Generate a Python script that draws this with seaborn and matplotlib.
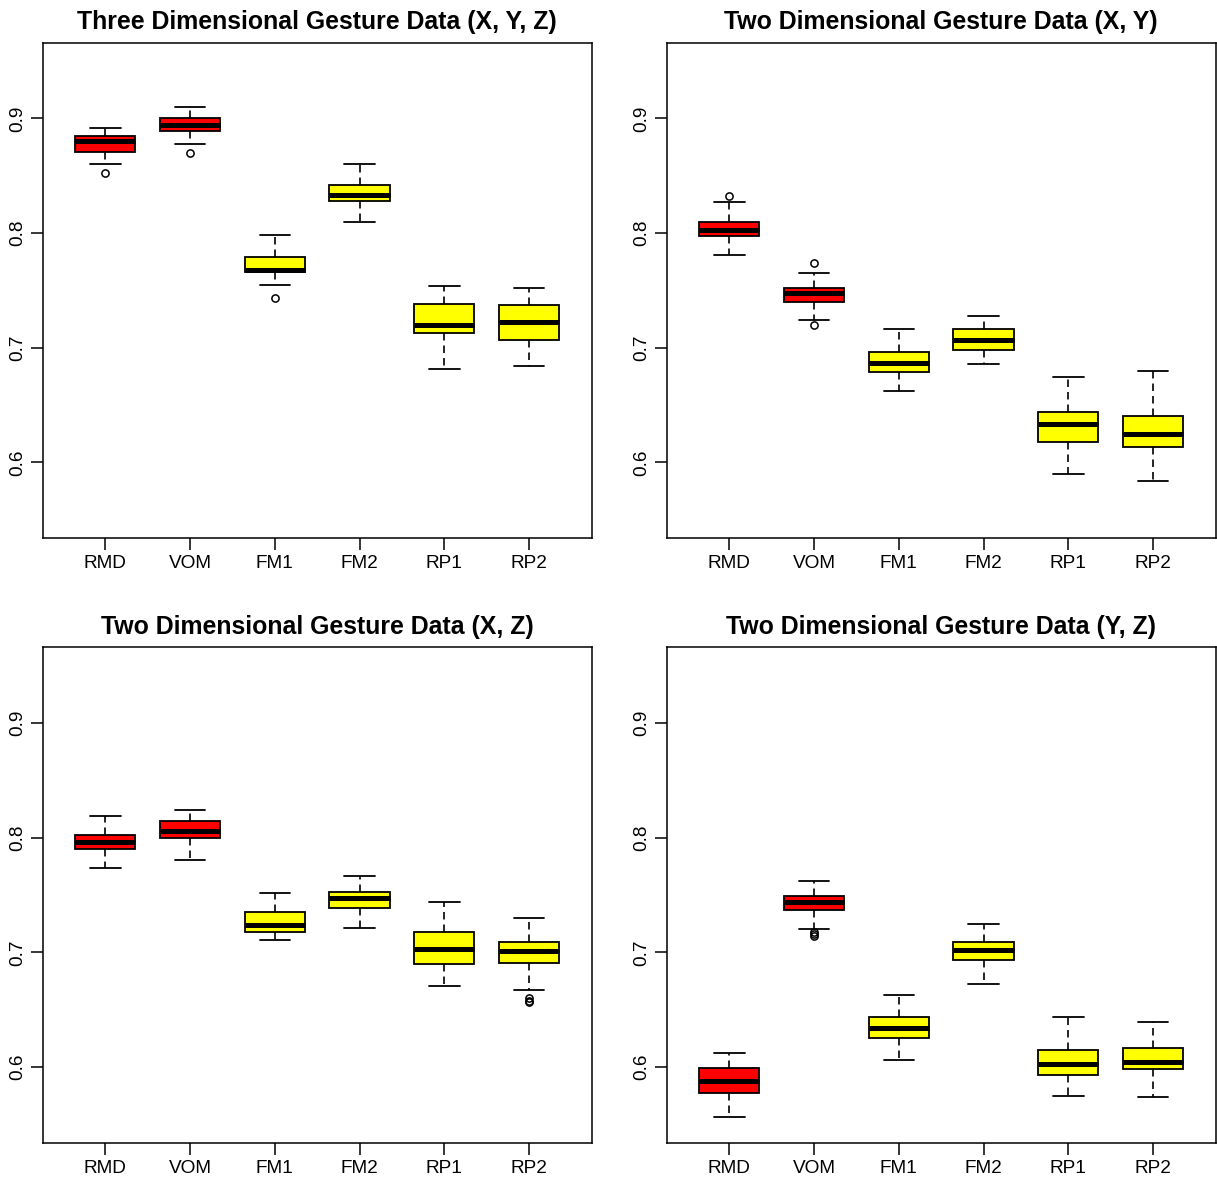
import matplotlib
matplotlib.use("Agg")
import matplotlib.pyplot as plt
import seaborn as sns

sns.set_style("white")
plt.rcParams['font.family'] = ['Liberation Sans', 'DejaVu Sans']
plt.rcParams['text.color'] = 'black'
plt.rcParams['axes.labelcolor'] = 'black'
plt.rcParams['xtick.color'] = 'black'
plt.rcParams['ytick.color'] = 'black'
plt.rcParams['axes.edgecolor'] = 'black'

categories = ["RMD", "VOM", "FM1", "FM2", "RP1", "RP2"]
box_colors = ["#FF0000", "#FF0000", "#FFFF00", "#FFFF00", "#FFFF00", "#FFFF00"]

titles = [
    "Three Dimensional Gesture Data (X, Y, Z)",
    "Two Dimensional Gesture Data (X, Y)",
    "Two Dimensional Gesture Data (X, Z)",
    "Two Dimensional Gesture Data (Y, Z)",
]

# Panel 1: (X, Y, Z)
xyz_lo = [0.860, 0.878, 0.755, 0.810, 0.681, 0.684]
xyz_q1 = [0.871, 0.889, 0.766, 0.828, 0.713, 0.707]
xyz_med = [0.880, 0.894, 0.768, 0.833, 0.720, 0.722]
xyz_q3 = [0.885, 0.900, 0.779, 0.842, 0.738, 0.737]
xyz_hi = [0.892, 0.910, 0.798, 0.860, 0.754, 0.752]
xyz_out = [[0.852], [0.870], [0.743], [], [], []]

# Panel 2: (X, Y)
xy_lo = [0.781, 0.724, 0.662, 0.686, 0.590, 0.584]
xy_q1 = [0.797, 0.740, 0.679, 0.698, 0.618, 0.613]
xy_med = [0.803, 0.748, 0.687, 0.707, 0.633, 0.625]
xy_q3 = [0.810, 0.752, 0.696, 0.716, 0.644, 0.640]
xy_hi = [0.827, 0.765, 0.716, 0.728, 0.674, 0.680]
xy_out = [[0.832], [0.774, 0.7195], [], [], [], []]

# Panel 3: (X, Z)
xz_lo = [0.774, 0.781, 0.711, 0.721, 0.671, 0.667]
xz_q1 = [0.790, 0.800, 0.718, 0.739, 0.690, 0.691]
xz_med = [0.796, 0.806, 0.724, 0.747, 0.703, 0.701]
xz_q3 = [0.802, 0.815, 0.735, 0.753, 0.718, 0.709]
xz_hi = [0.819, 0.824, 0.752, 0.767, 0.744, 0.730]
xz_out = [[], [], [], [], [], [0.660, 0.658, 0.657]]

# Panel 4: (Y, Z)
yz_lo = [0.556, 0.720, 0.606, 0.672, 0.575, 0.574]
yz_q1 = [0.577, 0.737, 0.625, 0.693, 0.593, 0.598]
yz_med = [0.588, 0.744, 0.634, 0.702, 0.603, 0.604]
yz_q3 = [0.599, 0.749, 0.644, 0.709, 0.615, 0.617]
yz_hi = [0.612, 0.762, 0.663, 0.725, 0.644, 0.639]
yz_out = [[], [0.7175, 0.716, 0.7145], [], [], [], []]

panels = [
    (xyz_lo, xyz_q1, xyz_med, xyz_q3, xyz_hi, xyz_out),
    (xy_lo, xy_q1, xy_med, xy_q3, xy_hi, xy_out),
    (xz_lo, xz_q1, xz_med, xz_q3, xz_hi, xz_out),
    (yz_lo, yz_q1, yz_med, yz_q3, yz_hi, yz_out),
]

yticks = [0.6, 0.7, 0.8, 0.9]

W, H = 1217, 1180
fig = plt.figure(figsize=(W / 100, H / 100), dpi=100)
fig.patch.set_facecolor("white")

ax_w = 549 / W
ax_h = 495.3 / H
lefts = [42.7 / W, 666.7 / W]
bottoms = [1 - 538 / H, 1 - 1142.7 / H]
positions = [(lefts[0], bottoms[0]), (lefts[1], bottoms[0]),
             (lefts[0], bottoms[1]), (lefts[1], bottoms[1])]

for i, (lo, q1, med, q3, hi, out) in enumerate(panels):
    ax = fig.add_axes([positions[i][0], positions[i][1], ax_w, ax_h])
    stats = []
    for j in range(len(categories)):
        stats.append(dict(whislo=lo[j], q1=q1[j], med=med[j], q3=q3[j],
                          whishi=hi[j], fliers=out[j], label=categories[j]))
    pos = list(range(1, len(categories) + 1))
    bp = ax.bxp(stats, positions=pos, widths=0.71, capwidths=0.36,
                patch_artist=True, showfliers=True,
                boxprops=dict(linewidth=1.3, edgecolor="black"),
                medianprops=dict(color="black", linewidth=3.6, solid_capstyle="butt"),
                whiskerprops=dict(color="black", linewidth=1.2, linestyle=(0, (4.5, 3))),
                capprops=dict(color="black", linewidth=1.3),
                flierprops=dict(marker="o", markersize=5.2, markerfacecolor="none",
                                markeredgecolor="black", markeredgewidth=1.1,
                                linestyle="none"))
    for patch, c in zip(bp["boxes"], box_colors):
        patch.set_facecolor(c)
    ax.set_xlim(0.26, 6.74)
    ax.set_ylim(0.534, 0.966)
    ax.set_xticks(pos)
    ax.set_xticklabels(categories, fontsize=13.7, color="black")
    ax.set_yticks(yticks)
    ax.set_yticklabels([f"{v:.1f}" for v in yticks], fontsize=13.7,
                       rotation=90, va="center", color="black")
    ax.tick_params(axis="both", direction="out", length=8.6, width=1.1,
                   color="black", labelcolor="black", bottom=True, left=True)
    ax.tick_params(axis="x", pad=3.5)
    ax.tick_params(axis="y", pad=3.0)
    for sp in ax.spines.values():
        sp.set_visible(True)
        sp.set_color("black")
        sp.set_linewidth(1.1)
    ax.set_facecolor("white")
    ax.grid(False)
    ax.set_title(titles[i], fontsize=17.9, fontweight="bold", pad=9.6,
                 color="black")

fig.savefig("out.png", dpi=100, facecolor="white")
